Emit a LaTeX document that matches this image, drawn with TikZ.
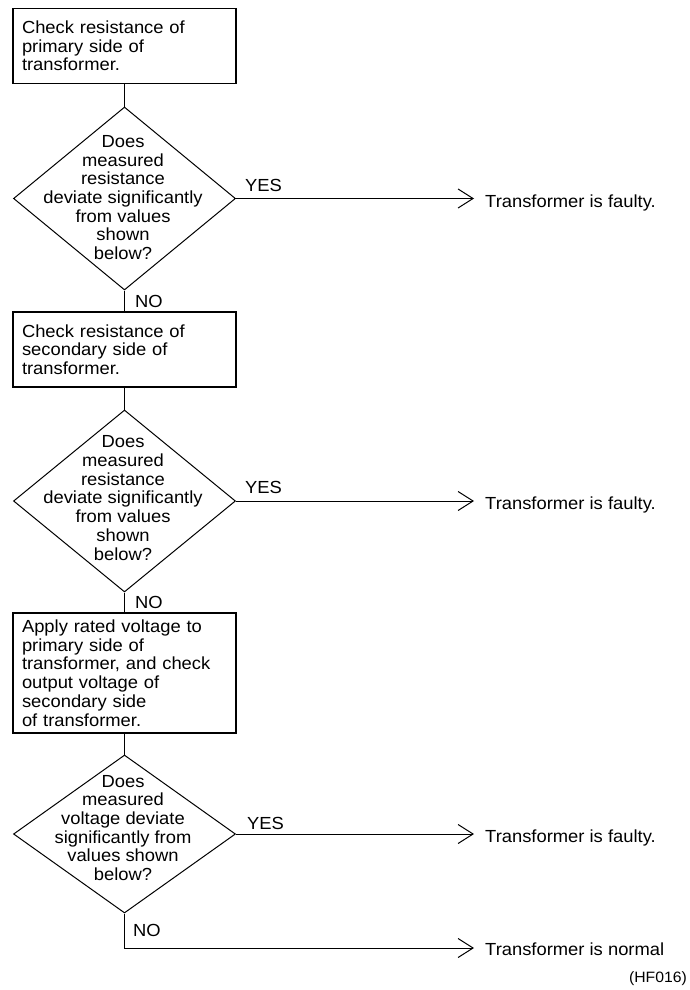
\documentclass[tikz,border=0pt]{standalone}
\usepackage{fontspec}
\setmainfont{Liberation Sans}[FakeStretch=1.05]
\usetikzlibrary{arrows.meta,shapes.geometric}
\newcommand\mainsz{\fontsize{17.5pt}{18.7pt}\selectfont}
\newcommand\smallsz{\fontsize{15pt}{16pt}\selectfont}
\begin{document}
\begin{tikzpicture}[x=1pt,y=-1pt,
  every node/.style={font=\mainsz, text=black},
  box/.style={draw, line width=1.1pt, minimum width=223pt, text width=205pt,
    inner xsep=9pt, inner ysep=0pt, align=left},
  dia/.style={draw, diamond, line width=1pt, minimum width=222pt, inner sep=0pt},
  dtext/.style={align=center, inner sep=0pt},
  lbl/.style={anchor=base west, inner sep=0pt},
  res/.style={anchor=base west, inner xsep=11pt, inner ysep=0pt},
  conn/.style={line width=1pt},
  arr/.style={line width=1pt, -{Straight Barb[length=15pt,width=19pt,line width=1pt]}}
]
\fill[white] (0,0) rectangle (689,990);
\useasboundingbox (0,0) rectangle (689,990);

% boxes
\node[box, minimum height=75pt] (b1) at (124.5,46) {Check resistance of\\primary side of\\transformer.};
\node[box, minimum height=75pt] (b2) at (124.5,349.5) {Check resistance of\\secondary side of\\transformer.};
\node[box, minimum height=120pt] (b3) at (124.5,673) {Apply rated voltage to\\primary side of\\transformer, and check\\output voltage of\\secondary side\\of transformer.};

% diamonds
\node[dia, minimum height=183pt] (d1) at (124.5,198.5) {};
\node[dia, minimum height=182pt] (d2) at (124.5,501) {};
\node[dia, minimum height=158pt] (d3) at (124.5,834) {};

\node[dtext] (t1) at (123,197.5) {Does\\measured\\resistance\\deviate significantly\\from values\\shown\\below?};
\node[dtext] (t2) at (123,498) {Does\\measured\\resistance\\deviate significantly\\from values\\shown\\below?};
\node[dtext] (t3) at (123,828) {Does\\measured\\voltage deviate\\significantly from\\values shown\\below?};

% results
\node[res] (r1) at (474,207) {Transformer is faulty.};
\node[res] (r2) at (474,509.5) {Transformer is faulty.};
\node[res] (r3) at (474,842.5) {Transformer is faulty.};
\node[res] (r4) at (474,955.5) {Transformer is normal};

% labels
\node[lbl] (y1) at (245,191) {YES};
\node[lbl] (y2) at (245,493) {YES};
\node[lbl] (y3) at (247,829) {YES};
\node[lbl] (n1) at (135,307) {NO};
\node[lbl] (n2) at (135,608) {NO};
\node[lbl] (n3) at (133,936.5) {NO};

\node[anchor=base east, inner sep=0pt, font=\smallsz] (hf) at (687,982) {(HF016)};

% connectors
\draw[conn] (b1.south) -- (d1.north);
\draw[conn] (d1.south) -- (b2.north);
\draw[conn] (b2.south) -- (d2.north);
\draw[conn] (d2.south) -- (b3.north);
\draw[conn] (b3.south) -- (d3.north);

\draw[arr] (d1.east) -- (d1.east -| r1.west);
\draw[arr] (d2.east) -- (d2.east -| r2.west);
\draw[arr] (d3.east) -- (d3.east -| r3.west);
\draw[arr] (d3.south) -- ++(0,34.5) coordinate (k) -- (k -| r4.west);
\end{tikzpicture}
\end{document}
